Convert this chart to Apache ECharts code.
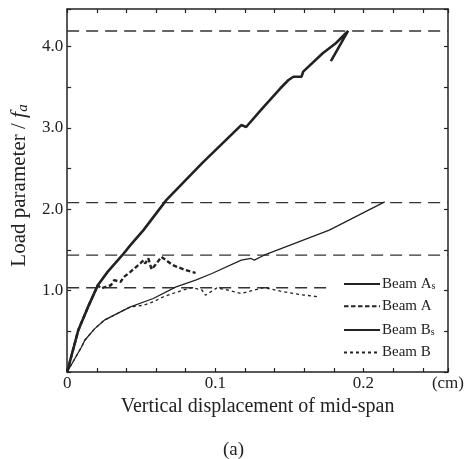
<!DOCTYPE html>
<html><head><meta charset="utf-8">
<script src="https://cdn.jsdelivr.net/npm/echarts@6/dist/echarts.min.js"></script>
<style>html,body{margin:0;padding:0;background:#fff}#c{width:467px;height:459px}</style>
</head><body><div id="c"></div>
<script>
// Vertical displacement of mid-span (cm) / load parameter f_a
const beamAsX = [0, 0.0075, 0.0141, 0.0207, 0.0273, 0.0372, 0.0427, 0.0515, 0.0669, 0.0911, 0.1175, 0.1208, 0.1307, 0.1439, 0.1494, 0.1527, 0.1582, 0.1593, 0.1725, 0.1813, 0.1896, 0.178];
const beamAsY = [0, 0.513, 0.80, 1.066, 1.23, 1.435, 1.558, 1.743, 2.112, 2.567, 3.034, 3.01, 3.218, 3.486, 3.588, 3.628, 3.628, 3.69, 3.916, 4.039, 4.19, 3.82];

const beamAX = [0, 0.0075, 0.0141, 0.0207, 0.0229, 0.0295, 0.0317, 0.0361, 0.0383, 0.0427, 0.0493, 0.0515, 0.0526, 0.0548, 0.057, 0.0603, 0.0636, 0.0713, 0.0801, 0.0867];
const beamAY = [0, 0.513, 0.80, 1.066, 1.026, 1.066, 1.128, 1.107, 1.168, 1.23, 1.333, 1.374, 1.333, 1.395, 1.26, 1.333, 1.415, 1.312, 1.251, 1.218];

const beamBsX = [0, 0.0097, 0.0119, 0.0185, 0.0251, 0.0427, 0.0581, 0.0735, 0.0867, 0.0977, 0.1175, 0.1241, 0.1263, 0.1329, 0.1769, 0.2143];
const beamBsY = [0, 0.3075, 0.39, 0.53, 0.637, 0.80, 0.903, 1.046, 1.128, 1.21, 1.374, 1.395, 1.374, 1.435, 1.743, 2.091];

const beamBX = [0, 0.0097, 0.0119, 0.0185, 0.0251, 0.0427, 0.0515, 0.0581, 0.0647, 0.0779, 0.0845, 0.0911, 0.0933, 0.101, 0.1087, 0.1175, 0.1329, 0.1439, 0.1571, 0.1703];
const beamBY = [0, 0.3075, 0.39, 0.53, 0.637, 0.80, 0.82, 0.861, 0.922, 1.005, 1.038, 1.005, 0.943, 1.033, 1.005, 0.964, 1.038, 0.993, 0.952, 0.922];

// horizontal reference levels and where each dashed line ends in x
const refLevels = [4.19, 2.08, 1.435, 1.035];
const refEnds = [0.257, 0.257, 0.257, 0.177];

const seriesNames = ['Beam As', 'Beam A', 'Beam Bs', 'Beam B'];
const xTickLabels = {0: '0', 5: '0.1', 10: '0.2'};
const yTickLabels = ['1.0', '2.0', '3.0', '4.0'];

const X_MAX = 0.257, Y_MAX = 4.46;
const FONT = '"Liberation Serif", "DejaVu Serif", serif';
const INK = '#222';

function pairs(xs, ys) { return xs.map((x, i) => [x, ys[i]]); }

const refSeries = refLevels.map((v, i) => ({
  type: 'line', name: 'ref' + i, symbol: 'none', silent: true, z: 1,
  data: [[0, v], [refEnds[i], v]],
  lineStyle: {color: '#333', width: 1.3, type: [12, 7]}
}));

const styles = [
  {width: 2.6, type: 'solid'},
  {width: 2.4, type: [4.5, 2.5]},
  {width: 1.3, type: 'solid'},
  {width: 1.3, type: [3, 3]}
];
const dataSets = [pairs(beamAsX, beamAsY), pairs(beamAX, beamAY), pairs(beamBsX, beamBsY), pairs(beamBX, beamBY)];
const beamSeries = seriesNames.map((n, i) => ({
  type: 'line', name: n, symbol: 'none', z: 3,
  data: dataSets[i],
  lineStyle: {color: INK, width: styles[i].width, type: styles[i].type},
  itemStyle: {color: INK}
}));

const tickStyle = {show: true, inside: true, length: 4, lineStyle: {color: INK, width: 1.2}};
const lineStyleAxis = {show: true, onZero: false, lineStyle: {color: INK, width: 1.5}};

const chart = echarts.init(document.getElementById('c'), null, {renderer: 'canvas'});
chart.setOption({
  animation: false,
  backgroundColor: '#fff',
  grid: {left: 62, right: 15, top: 9, bottom: 87, containLabel: false},
  title: [{
    text: '(a)', left: 'center', top: 436,
    textStyle: {fontFamily: FONT, fontSize: 19, fontWeight: 'normal', color: INK}
  }],
  legend: {
    data: seriesNames, orient: 'vertical', left: 338, top: 270,
    itemWidth: 36, itemHeight: 14, itemGap: 7.3,
    itemStyle: {opacity: 0},
    formatter: function (name) {
      if (name === 'Beam As') return '{n|Beam A}{s|s}';
      if (name === 'Beam Bs') return '{n|Beam B}{s|s}';
      return '{n|' + name + '}';
    },
    textStyle: {
      fontFamily: FONT, fontSize: 15, color: INK, padding: [0, 0, 0, -3],
      rich: {
        n: {fontFamily: FONT, fontSize: 15, color: INK, lineHeight: 14},
        s: {fontFamily: FONT, fontSize: 10, color: INK, lineHeight: 14, verticalAlign: 'bottom', padding: [6, 0, 0, 0]}
      }
    }
  },
  xAxis: [{
    type: 'value', position: 'bottom', min: 0, max: X_MAX, interval: 0.02,
    name: 'Vertical displacement of mid-span', nameLocation: 'middle', nameGap: 17,
    nameTextStyle: {fontFamily: FONT, fontSize: 20, color: INK},
    axisLine: lineStyleAxis, axisTick: tickStyle, splitLine: {show: false},
    axisLabel: {
      showMaxLabel: true, margin: 3, fontFamily: FONT, fontSize: 17, color: INK,
      formatter: function (v) {
        if (v > 0.25) return '(cm)';
        const k = Math.round(v / 0.02);
        return Math.abs(v - k * 0.02) < 1e-9 && xTickLabels[k] !== undefined ? xTickLabels[k] : '';
      }
    }
  }, {
    type: 'value', position: 'top', min: 0, max: X_MAX, interval: 0.02,
    axisLine: lineStyleAxis, axisTick: tickStyle,
    splitLine: {show: false}, axisLabel: {show: false}
  }],
  yAxis: [{
    type: 'value', position: 'left', min: 0, max: Y_MAX, interval: 0.5,
    name: '{n|Load parameter / }{f|f}{a|a}', nameLocation: 'middle', nameGap: 30,
    nameTextStyle: {
      fontFamily: FONT, fontSize: 21, color: INK, padding: [0, 0, 0, 10],
      rich: {
        n: {fontFamily: FONT, fontSize: 21, color: INK, lineHeight: 24},
        f: {fontFamily: FONT, fontSize: 22, fontStyle: 'italic', color: INK, lineHeight: 24},
        a: {fontFamily: FONT, fontSize: 15, fontStyle: 'italic', color: INK, lineHeight: 24, verticalAlign: 'bottom', padding: [7, 0, 0, 0]}
      }
    },
    axisLine: lineStyleAxis, axisTick: tickStyle, splitLine: {show: false},
    axisLabel: {
      margin: 4, fontFamily: FONT, fontSize: 17, color: INK,
      formatter: function (v) {
        const k = Math.round(v);
        if (k >= 1 && Math.abs(v - k) < 1e-9 && yTickLabels[k - 1]) return yTickLabels[k - 1];
        return '';
      }
    }
  }, {
    type: 'value', position: 'right', min: 0, max: Y_MAX, interval: 0.5,
    axisLine: lineStyleAxis, axisTick: tickStyle,
    splitLine: {show: false}, axisLabel: {show: false}
  }],
  series: refSeries.concat(beamSeries)
});
</script>
</body></html>
